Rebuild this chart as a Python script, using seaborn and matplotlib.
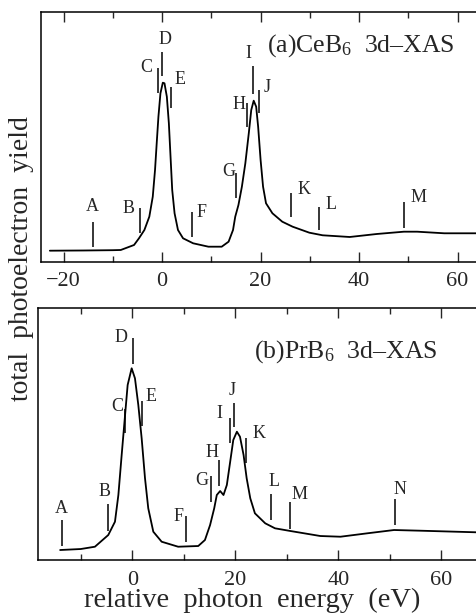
import matplotlib
matplotlib.use("Agg")
import matplotlib.pyplot as plt
import seaborn as sns
import pandas as pd
from matplotlib.ticker import MultipleLocator

# (a) CeB6 3d-XAS spectrum (arbitrary units)
ce_energy = [-22.8, -16.0, -10.0, -8.4, -5.7, -4.7, -3.6, -2.6, -1.9, -1.44, -1.1, -0.75,
             -0.34, 0.14, 0.48, 0.96, 1.37, 1.71, 2.05, 2.53, 3.22, 4.25, 6.3, 9.4, 12.1,
             13.5, 14.4, 14.85, 15.5, 16.2, 16.9, 17.6, 18.1, 18.6, 19.1, 19.5, 20.0,
             20.5, 21.1, 22.4, 24.4, 26.5, 29.9, 32.6, 38.1, 43.6, 49.1, 51.8, 57.3, 64.7]
ce_yield = [11.3, 11.5, 11.8, 12.0, 17.0, 23.7, 32.0, 45.3, 65.3, 92.0, 118.7, 145.3,
            168.7, 179.3, 178.7, 165.3, 138.7, 105.3, 72.0, 48.7, 32.0, 23.7, 18.7, 15.3, 15.3,
            20.3, 32.0, 45.3, 57.0, 75.3, 98.7, 128.7, 152.0, 161.3, 155.3, 135.3, 102.0,
            75.3, 58.7, 48.7, 40.3, 35.3, 29.3, 26.7, 25.0, 28.0, 30.3, 30.3, 28.7, 28.7]

# (b) PrB6 3d-XAS spectrum
pr_energy = [-14.0, -10.0, -7.25, -4.66, -3.36, -2.7, -2.06, -1.4, -0.9, -0.12, 0.52,
             1.17, 1.82, 2.47, 3.1, 4.08, 5.7, 8.9, 12.8, 14.1, 15.1, 15.9, 16.4, 17.05,
             17.7, 18.35, 19.0, 19.6, 20.3, 20.9, 21.6, 22.2, 22.9, 23.8, 25.8, 27.7,
             30.7, 36.5, 40.4, 45.6, 50.8, 56.0, 66.9]
pr_yield = [10.0, 11.0, 13.3, 25.0, 38.3, 65.0, 105.0, 145.0, 175.0, 191.7, 181.7,
            155.0, 121.7, 81.7, 51.7, 28.3, 18.3, 13.3, 14.0, 20.0, 35.0, 51.7, 65.0, 69.0,
            65.0, 75.0, 98.3, 120.0, 128.3, 123.3, 105.0, 81.7, 61.7, 46.7, 36.7, 31.7,
            29.0, 24.0, 23.3, 26.7, 30.0, 29.3, 27.7]

# marker bars: label, energy, bar bottom, bar top, label x, label y
ce_names = ["A", "B", "C", "D", "E", "F", "G", "H", "I", "J", "K", "L", "M"]
ce_mark = [-14.0, -4.5, -0.9, 0.07, 1.85, 6.1, 15.05, 17.25, 18.5, 19.65, 26.1, 31.8, 49.1]
ce_lo = [15.3, 28.7, 168.7, 186.0, 153.7, 24.7, 63.7, 135.3, 168.0, 148.7, 44.7, 32.0, 33.7]
ce_hi = [40.3, 53.7, 193.7, 210.3, 175.3, 50.3, 88.7, 158.7, 196.0, 172.0, 69.3, 54.7, 59.7]
ce_lx = [-14.2, -6.8, -3.2, 0.6, 3.7, 8.1, 13.5, 15.7, 17.6, 21.4, 28.9, 34.3, 52.0]
ce_ly = [55.0, 53.0, 194.0, 222.7, 182.0, 49.7, 90.3, 157.0, 208.7, 174.7, 72.7, 57.0, 64.7]

pr_names = ["A", "B", "C", "D", "E", "F", "G", "H", "I", "J", "K", "L", "M", "N"]
pr_mark = [-13.6, -4.7, -1.5, 0.2, 1.8, 10.4, 15.3, 16.8, 19.0, 19.8, 22.1, 26.9, 30.7, 50.9]
pr_lo = [14.0, 29.3, 127.3, 196.0, 134.0, 18.3, 58.3, 74.0, 117.3, 132.7, 96.7, 40.0, 30.7, 35.0]
pr_hi = [40.0, 56.0, 150.7, 221.7, 159.0, 44.0, 84.0, 100.0, 141.7, 156.7, 121.7, 66.0, 58.3, 60.7]
pr_lx = [-13.8, -5.4, -3.0, -2.1, 3.6, 8.9, 13.4, 15.4, 17.0, 19.4, 24.5, 27.6, 32.5, 51.9]
pr_ly = [51.7, 68.3, 153.3, 222.7, 163.3, 44.0, 79.3, 107.3, 146.7, 170.0, 126.7, 78.3, 66.0, 70.7]

sns.set_theme(style="ticks")
plt.rcParams["font.family"] = ["Liberation Serif", "DejaVu Serif"]
plt.rcParams["mathtext.fontset"] = "custom"
plt.rcParams["mathtext.rm"] = "Liberation Serif"
plt.rcParams["mathtext.it"] = "Liberation Serif:italic"

fig = plt.figure(figsize=(4.76, 6.15), dpi=100)
ax_a = fig.add_axes([0.0861, 0.574, 1.02, 0.4065])
ax_b = fig.add_axes([0.0798, 0.0894, 1.01, 0.4098])


def draw_panel(ax, energy, yld, names, mark, lo, hi, lx, ly, title, title_x, title_y, xlim, ylim, pad):
    df = pd.DataFrame({"energy": energy, "yield": yld})
    sns.lineplot(data=df, x="energy", y="yield", ax=ax, color="black", lw=1.3, sort=False)
    ax.vlines(mark, lo, hi, color="black", lw=1.1)
    for n, x, y in zip(names, lx, ly):
        ax.text(x, y, n, fontsize=13, ha="center", va="center")
    ax.text(title_x, title_y, title, fontsize=18.5, ha="left", va="center")
    ax.set_xlim(*xlim)
    ax.set_ylim(*ylim)
    ax.xaxis.set_major_locator(MultipleLocator(20))
    ax.xaxis.set_minor_locator(MultipleLocator(10))
    ax.set_yticks([])
    ax.tick_params(axis="x", which="major", direction="in", top=True, length=7.2,
                   width=1.0, labelsize=16, pad=pad)
    ax.tick_params(axis="x", which="minor", direction="in", top=True, length=4.6, width=1.0)
    ax.set_xlabel("")
    ax.set_ylabel("")
    for s in ax.spines.values():
        s.set_linewidth(1.1)
        s.set_color("black")
    ax.set_xticklabels([str(int(t)).replace("-", "\u2212") for t in ax.get_xticks()])


draw_panel(ax_a, ce_energy, ce_yield, ce_names, ce_mark, ce_lo, ce_hi, ce_lx, ce_ly,
           "(a)CeB$_{\\mathrm{6}}$  3d\u2013XAS", 21.2, 216, (-24.6, 74.0), (0, 250), 7)
draw_panel(ax_b, pr_energy, pr_yield, pr_names, pr_mark, pr_lo, pr_hi, pr_lx, pr_ly,
           "(b)PrB$_{\\mathrm{6}}$  3d\u2013XAS", 23.6, 208, (-18.3, 75.0), (0, 252), 8)

fig.text(0.53, 0.023, "relative  photon  energy  (eV)", fontsize=20.5, ha="center", va="center")
fig.text(0.046, 0.58, "total  photoelectron  yield", fontsize=20, ha="center", va="center",
         rotation=90)

fig.savefig("out.png", dpi=100)
